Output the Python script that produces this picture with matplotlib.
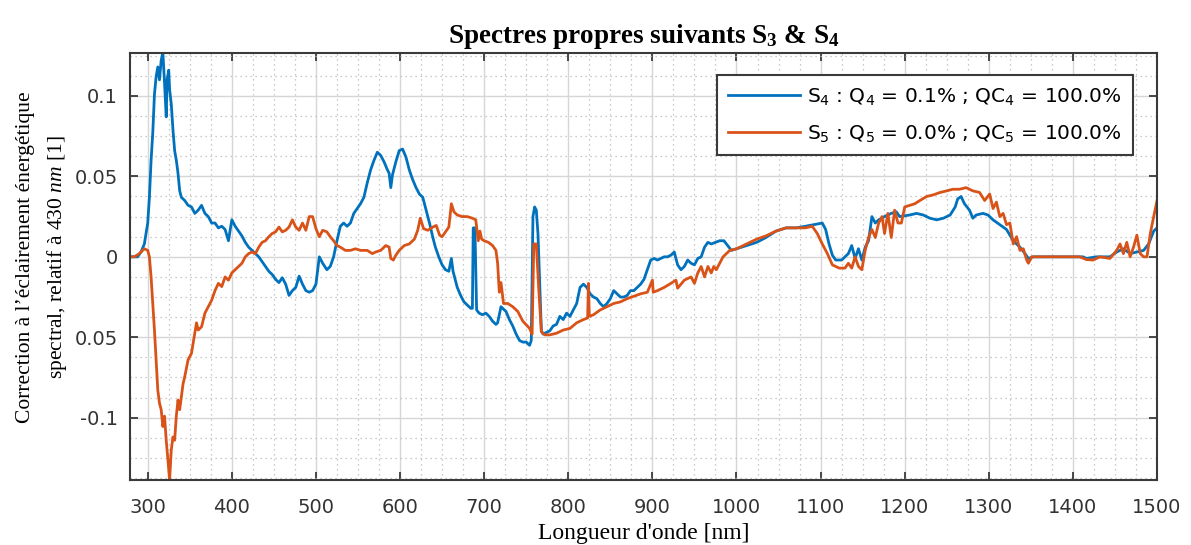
import matplotlib
matplotlib.use("Agg")
import matplotlib.pyplot as plt
from matplotlib.ticker import MultipleLocator, FixedLocator, FixedFormatter

plt.rcParams['mathtext.fontset'] = 'custom'
plt.rcParams['mathtext.rm'] = 'DejaVu Sans'
plt.rcParams['mathtext.it'] = 'Liberation Serif:italic'
plt.rcParams['mathtext.bf'] = 'Liberation Serif:bold'

# S4 (blue)
s4_nm = [280, 288, 292, 296, 300, 302, 304, 306, 308, 310, 312, 314, 316, 318, 320,
         322, 323, 325, 326, 328, 330, 332, 334, 336, 338, 340, 344, 348, 352, 356,
         360, 364, 368, 372, 376, 380, 384, 388, 392, 396, 400, 404, 408, 412, 416,
         420, 424, 428, 432, 436, 440, 444, 448, 452, 456, 460, 464, 468, 472, 476,
         480, 484, 488, 492, 496, 500, 504, 508, 513, 517, 521, 525, 529, 533, 537,
         541, 545, 549, 553, 557, 561, 565, 569, 573, 577, 581, 585, 587, 589, 591,
         595, 599, 603, 607, 611, 615, 619, 623, 627, 631, 635, 639, 642, 646, 650,
         654, 658, 661, 663, 668, 672, 676, 680, 684, 686, 687, 689, 691, 694, 698,
         702, 706, 710, 714, 716, 720, 726, 730, 734, 738, 742, 746, 750, 754, 756,
         758, 760, 762, 764, 766, 768, 770, 774, 778, 782, 786, 790, 794, 798, 802,
         806, 810, 814, 818, 822, 826, 830, 834, 838, 842, 846, 850, 854, 858, 862,
         866, 870, 874, 878, 882, 886, 890, 894, 898, 902, 906, 910, 914, 918, 922,
         926, 930, 934, 938, 942, 946, 950, 954, 958, 962, 966, 970, 975, 980, 985,
         988, 994, 1000, 1012, 1024, 1035, 1047, 1059, 1071, 1082, 1092, 1102, 1106, 1110, 1114,
         1118, 1122, 1125, 1129, 1133, 1137, 1141, 1145, 1149, 1153, 1157, 1161, 1165, 1169, 1176,
         1184, 1190, 1194, 1206, 1214, 1222, 1230, 1238, 1246, 1254, 1260, 1263, 1267, 1271, 1277,
         1281, 1285, 1293, 1299, 1305, 1313, 1321, 1329, 1337, 1343, 1347, 1353, 1380, 1412, 1416,
         1428, 1444, 1452, 1460, 1468, 1476, 1484, 1490, 1496, 1500]
s4_val = [0.0, 0.0, 0.003, 0.008, 0.021, 0.037, 0.060, 0.077, 0.101, 0.112, 0.118, 0.110, 0.122, 0.127, 0.108,
          0.087, 0.110, 0.116, 0.104, 0.095, 0.079, 0.066, 0.060, 0.052, 0.041, 0.037, 0.035, 0.032, 0.031, 0.027,
          0.029, 0.032, 0.027, 0.025, 0.021, 0.021, 0.018, 0.019, 0.017, 0.010, 0.023, 0.019, 0.016, 0.013, 0.009,
          0.006, 0.004, 0.002, 0.000, -0.003, -0.006, -0.009, -0.011, -0.014, -0.016, -0.013, -0.017, -0.024, -0.021, -0.019,
          -0.012, -0.017, -0.021, -0.022, -0.021, -0.017, 0.000, -0.004, -0.008, -0.006, 0.000, 0.010, 0.019, 0.021, 0.019,
          0.021, 0.027, 0.030, 0.033, 0.037, 0.046, 0.054, 0.060, 0.065, 0.063, 0.059, 0.054, 0.052, 0.043, 0.051,
          0.059, 0.066, 0.067, 0.062, 0.054, 0.048, 0.043, 0.039, 0.037, 0.029, 0.021, 0.012, 0.006, 0.000, -0.005,
          -0.008, -0.009, -0.001, -0.009, -0.019, -0.024, -0.028, -0.030, -0.032, -0.032, 0.018, 0.018, -0.033, -0.035, -0.036,
          -0.035, -0.037, -0.040, -0.042, -0.041, -0.031, -0.034, -0.039, -0.043, -0.048, -0.052, -0.053, -0.053, -0.055, -0.052,
          0.025, 0.031, 0.029, 0.014, -0.017, -0.046, -0.048, -0.047, -0.046, -0.043, -0.042, -0.037, -0.039, -0.035, -0.037,
          -0.033, -0.029, -0.019, -0.017, -0.019, -0.023, -0.025, -0.026, -0.029, -0.031, -0.029, -0.026, -0.021, -0.023, -0.025,
          -0.025, -0.024, -0.021, -0.021, -0.019, -0.017, -0.014, -0.008, -0.002, -0.001, -0.002, -0.001, 0.000, 0.000, 0.001,
          0.003, -0.005, -0.008, -0.006, -0.002, -0.004, -0.005, -0.001, 0.000, 0.006, 0.009, 0.008, 0.009, 0.010, 0.010,
          0.008, 0.004, 0.005, 0.007, 0.009, 0.012, 0.016, 0.018, 0.018, 0.019, 0.020, 0.021, 0.017, 0.008, 0.001,
          -0.002, -0.002, -0.002, 0.000, 0.002, 0.007, -0.001, 0.005, -0.002, 0.006, 0.010, 0.025, 0.021, 0.023, 0.025,
          0.027, 0.028, 0.025, 0.026, 0.027, 0.026, 0.024, 0.023, 0.024, 0.026, 0.031, 0.036, 0.0375, 0.033, 0.029,
          0.024, 0.026, 0.027, 0.026, 0.023, 0.020, 0.017, 0.010, 0.006, 0.002, -0.001, 0.000, 0.000, 0.000, -0.001,
          0.000, 0.000, 0.003, 0.005, 0.002, 0.003, 0.004, 0.008, 0.016, 0.018]

# S5 (orange)
s5_nm = [280, 284, 290, 296, 300, 302, 304, 306, 308, 310, 312, 314, 316, 318, 320,
         322, 324, 326, 328, 330, 332, 334, 336, 338, 340, 342, 344, 348, 352, 356,
         358, 360, 364, 368, 372, 376, 380, 384, 388, 392, 396, 400, 404, 408, 412,
         416, 420, 424, 428, 432, 436, 440, 444, 448, 452, 456, 460, 464, 468, 472,
         476, 480, 484, 488, 492, 496, 500, 504, 508, 513, 517, 521, 525, 529, 535,
         541, 547, 553, 561, 567, 571, 577, 583, 587, 589, 592, 595, 599, 605, 611,
         617, 621, 624, 628, 633, 639, 643, 647, 650, 654, 658, 661, 664, 668, 674,
         680, 686, 690, 693, 695, 697, 700, 705, 710, 714, 716, 718, 720, 723, 728,
         734, 740, 746, 754, 757, 759, 762, 765, 768, 772, 778, 786, 794, 802, 810,
         818, 823, 824, 825, 830, 838, 846, 854, 862, 870, 878, 886, 894, 900, 901,
         906, 914, 922, 928, 930, 938, 946, 950, 954, 958, 962, 966, 970, 973, 976,
         980, 984, 992, 1000, 1012, 1024, 1035, 1047, 1059, 1071, 1082, 1090, 1096, 1102, 1108,
         1114, 1122, 1129, 1133, 1137, 1141, 1145, 1149, 1153, 1157, 1161, 1165, 1169, 1173, 1176,
         1180, 1184, 1188, 1192, 1196, 1200, 1206, 1212, 1218, 1226, 1234, 1242, 1250, 1257, 1265,
         1273, 1281, 1289, 1295, 1301, 1305, 1309, 1313, 1317, 1321, 1325, 1329, 1333, 1337, 1341,
         1345, 1347, 1351, 1408, 1416, 1424, 1432, 1444, 1452, 1456, 1460, 1464, 1468, 1472, 1476,
         1480, 1484, 1488, 1492, 1496, 1500]
s5_val = [0.0, 0.0, 0.002, 0.005, 0.004, 0.000, -0.0125, -0.029, -0.0455, -0.064, -0.083, -0.091, -0.095, -0.1055, -0.099,
          -0.114, -0.126, -0.139, -0.120, -0.112, -0.114, -0.099, -0.089, -0.095, -0.087, -0.079, -0.0745, -0.064, -0.060, -0.0475,
          -0.041, -0.0455, -0.0435, -0.035, -0.031, -0.027, -0.021, -0.0165, -0.0185, -0.0125, -0.0145, -0.010, -0.008, -0.006, -0.004,
          0.000, 0.002, 0.003, 0.002, 0.006, 0.009, 0.010, 0.0125, 0.0145, 0.0155, 0.0185, 0.0155, 0.0165, 0.0185, 0.023,
          0.0185, 0.0165, 0.021, 0.0165, 0.025, 0.025, 0.0175, 0.0125, 0.0165, 0.0155, 0.0125, 0.010, 0.007, 0.006, 0.004,
          0.004, 0.005, 0.004, 0.004, 0.002, 0.003, 0.004, 0.007, 0.006, -0.001, -0.002, 0.001, 0.004, 0.007, 0.008,
          0.011, 0.0165, 0.024, 0.0175, 0.0165, 0.0185, 0.0195, 0.0135, 0.0125, 0.0155, 0.0185, 0.033, 0.028, 0.026, 0.025,
          0.025, 0.024, 0.023, 0.010, 0.016, 0.011, 0.010, 0.009, 0.007, 0.004, -0.004, -0.022, -0.016, -0.029, -0.029,
          -0.031, -0.034, -0.040, -0.0445, -0.048, 0.008, 0.008, -0.021, -0.0465, -0.0485, -0.0485, -0.0475, -0.0455, -0.0445, -0.041,
          -0.039, -0.038, -0.0165, -0.037, -0.036, -0.033, -0.031, -0.029, -0.028, -0.026, -0.0245, -0.023, -0.022, -0.0145, -0.022,
          -0.021, -0.019, -0.0165, -0.0145, -0.0195, -0.0145, -0.0125, -0.0165, -0.010, -0.006, -0.0125, -0.006, -0.010, -0.006, -0.008,
          -0.004, 0.000, 0.004, 0.005, 0.008, 0.011, 0.013, 0.016, 0.018, 0.018, 0.018, 0.019, 0.0145, 0.008, 0.002,
          -0.005, -0.007, -0.007, -0.004, -0.007, 0.000, -0.006, -0.008, 0.004, 0.012, 0.017, 0.012, 0.021, 0.025, 0.0145,
          0.027, 0.012, 0.029, 0.021, 0.021, 0.031, 0.032, 0.033, 0.035, 0.0375, 0.0385, 0.040, 0.041, 0.042, 0.042,
          0.043, 0.041, 0.040, 0.035, 0.039, 0.030, 0.034, 0.025, 0.027, 0.020, 0.021, 0.008, 0.0125, 0.004, 0.005,
          -0.002, -0.004, 0.000, 0.000, -0.0017, -0.002, 0.000, -0.001, 0.004, 0.008, 0.002, 0.009, 0.000, 0.006, 0.0135,
          0.002, 0.000, 0.000, 0.0146, 0.025, 0.035]

labels = [r"S$_4$ : Q$_4$ = 0.1% ; QC$_4$ = 100.0%",
          r"S$_5$ : Q$_5$ = 0.0% ; QC$_5$ = 100.0%"]
y_ticks = [-0.1, -0.05, 0, 0.05, 0.1]
y_ticklabels = ["-0.1", "0.05", "0", "0.05", "0.1"]

fig = plt.figure(figsize=(11.91, 5.45), dpi=100)
ax = fig.add_axes([0.1092, 0.1193, 0.8623, 0.7835])

ax.plot(s4_nm, s4_val, color="#0072BD", lw=2.0, label=labels[0])
ax.plot(s5_nm, s5_val, color="#D95319", lw=2.0, label=labels[1])

ax.set_xlim(279, 1500)
ax.set_ylim(-0.1387, 0.1267)
ax.xaxis.set_major_locator(MultipleLocator(100))
ax.xaxis.set_minor_locator(MultipleLocator(25))
ax.yaxis.set_major_locator(FixedLocator(y_ticks))
ax.yaxis.set_major_formatter(FixedFormatter(y_ticklabels))
ax.yaxis.set_minor_locator(MultipleLocator(0.0125))

ax.grid(which="major", color="#d6d6d6", lw=1.0, ls="-")
ax.grid(which="minor", color="#b8b8b8", lw=0.9, ls=(0, (1, 3)))
ax.set_axisbelow(True)

for sp in ax.spines.values():
    sp.set_color("#3a3a3a")
    sp.set_linewidth(1.5)

ax.tick_params(which="major", direction="in", top=True, right=True, length=5.5,
               width=1.3, color="#3a3a3a", labelsize=14, labelcolor="#333333")
ax.tick_params(axis="x", which="major", pad=13)
ax.tick_params(axis="y", which="major", pad=9)
ax.tick_params(which="minor", length=0)
for lab in ax.get_xticklabels() + ax.get_yticklabels():
    lab.set_family("DejaVu Sans")

ax.set_title(r"Spectres propres suivants S$_\mathbf{3}$ & S$_\mathbf{4}$",
             family="Liberation Serif", fontweight="bold", fontsize=19.5, pad=7)
ax.set_xlabel("Longueur d'onde [nm]", family="Liberation Serif", fontsize=17, labelpad=4)
ax.set_ylabel("Correction à l’éclairement énergétique\nspectral, relatif à 430 $nm$ [1]",
              family="Liberation Serif", fontsize=15.5, linespacing=1.6, va="center")
ax.yaxis.set_label_coords(-0.085, 0.521)

leg = ax.legend(loc="upper right", bbox_to_anchor=(0.9766, 0.9485), borderaxespad=0,
                prop={"family": "DejaVu Sans", "size": 14.5}, handlelength=3.6,
                handletextpad=0.35, labelspacing=0.8, borderpad=0.55,
                fancybox=False, framealpha=1, edgecolor="#3a3a3a")
leg.get_frame().set_linewidth(1.5)

fig.savefig("out.png", dpi=100)
